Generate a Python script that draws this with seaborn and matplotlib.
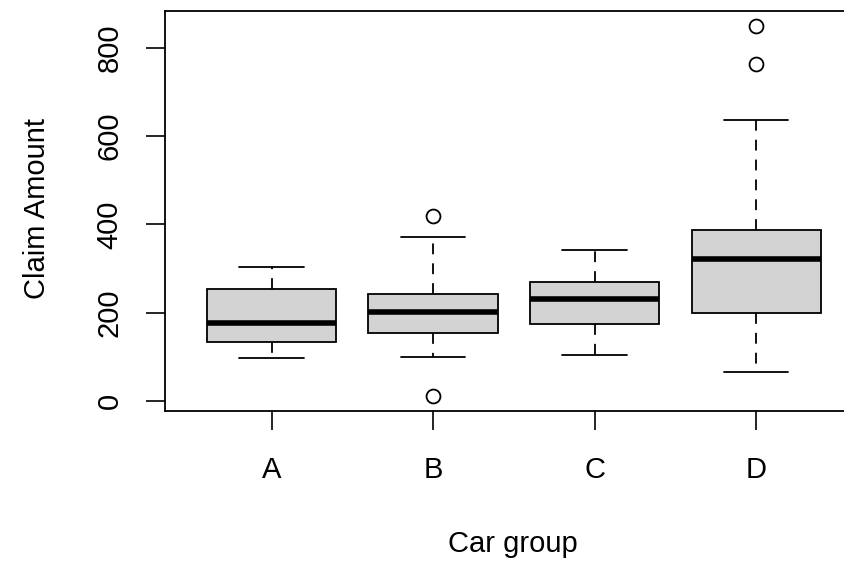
import numpy as np
import pandas as pd
import matplotlib
matplotlib.use("Agg")
import matplotlib.pyplot as plt
import seaborn as sns

# ---- data ----
categories = ["A", "B", "C", "D"]
claims_A = [98, 120, 134, 160, 177, 210, 253, 280, 303]
claims_B = [11, 101, 130, 155, 170, 190, 202, 215, 230, 243, 300, 372, 420]
claims_C = [104, 150, 175, 205, 232, 250, 269, 300, 343]
claims_D = [66, 120, 170, 199, 250, 300, 322, 340, 360, 387, 636, 763, 850]
y_ticks = [0, 200, 400, 600, 800]
x_label = "Car group"
y_label = "Claim Amount"

groups = {"A": claims_A, "B": claims_B, "C": claims_C, "D": claims_D}
df = pd.DataFrame(
    [(g, v) for g in categories for v in groups[g]], columns=["group", "claim"]
)

sns.set_theme(style="white")
plt.rcParams["font.family"] = ["Liberation Sans", "DejaVu Sans"]
FS = 21

W, H = 844, 561
fig = plt.figure(figsize=(W / 100, H / 100), dpi=100)
ax = fig.add_axes([165 / W, 1 - 411 / H, 697.7 / W, 400 / H])

sns.boxplot(
    data=df, x="group", y="claim", order=categories, ax=ax,
    color="#D3D3D3", saturation=1, linecolor="black", linewidth=1.3,
    width=0.8, whis=1.5,
    whiskerprops=dict(linestyle=(0, (6, 5))),
    medianprops=dict(linewidth=4),
    flierprops=dict(marker="o", markerfacecolor="none",
                    markeredgecolor="black", markersize=10,
                    markeredgewidth=1.3),
)

ax.set_xlim(-0.66, 3.66)
ax.set_ylim(-22.4, 883.5)
ax.set_yticks(y_ticks)
ax.set_yticklabels([str(t) for t in y_ticks], rotation=90, va="center",
                   fontsize=FS)
ax.set_xticks(range(len(categories)))
ax.set_xticklabels(categories, fontsize=FS)
ax.tick_params(axis="both", which="major", length=13.7, width=1.2,
               color="black", labelcolor="black", direction="out")
ax.tick_params(axis="x", pad=19)
ax.tick_params(axis="y", pad=16)
ax.yaxis.set_ticks_position("left")
ax.xaxis.set_ticks_position("bottom")

for s in ax.spines.values():
    s.set_visible(True)
    s.set_color("black")
    s.set_linewidth(1.3)

ax.set_xlabel(x_label, fontsize=FS, color="black")
ax.set_ylabel(y_label, fontsize=FS, color="black")
ax.xaxis.set_label_coords(0.499, -0.2975)
ax.yaxis.set_label_coords(-0.163, 0.5075)

fig.savefig("out.png", dpi=100)
